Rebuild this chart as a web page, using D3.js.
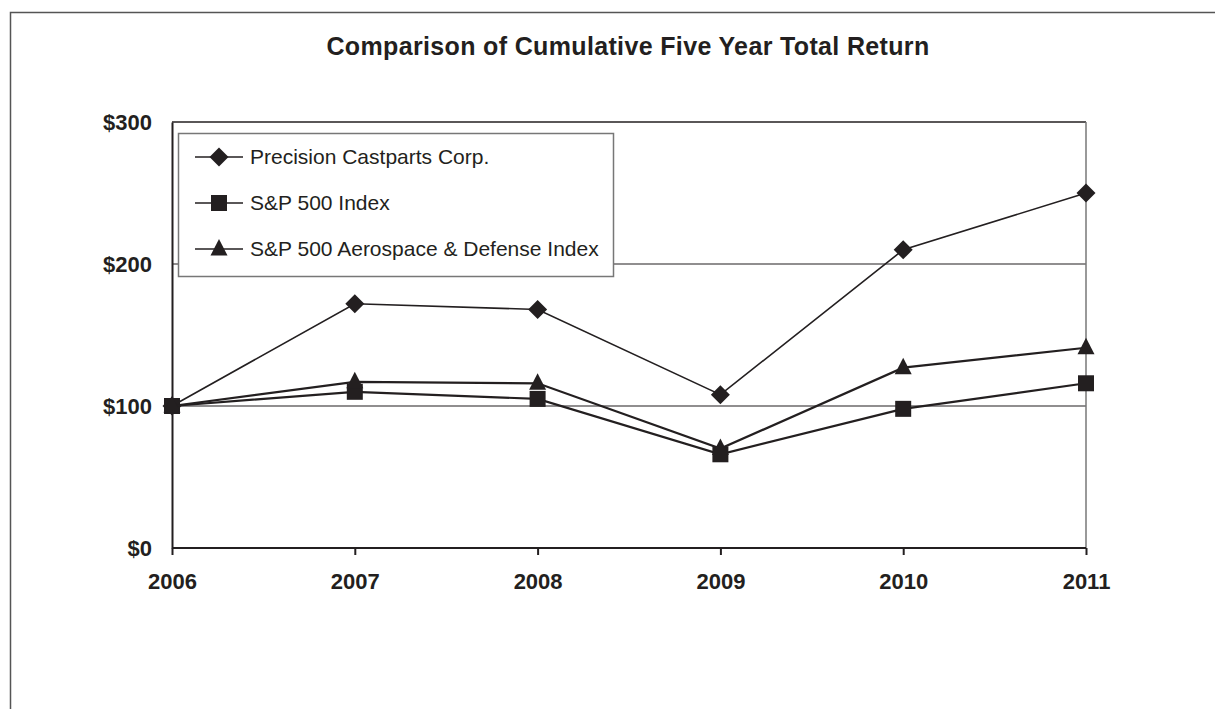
<!DOCTYPE html>
<html>
<head>
<meta charset="utf-8">
<script src="https://cdn.jsdelivr.net/npm/d3@7"></script>
<style>
	body { margin: 0; background: #fff; }
	svg { display: block; font-family: "Liberation Sans", Arial, Helvetica, sans-serif; }
	.tick-label { font-weight: bold; font-size: 22px; fill: #231f20; }
	.legend-label { font-size: 21px; fill: #231f20; }
</style>
</head>
<body>
<div class="returnchart"></div>
<script>
var years = ["2006", "2007", "2008", "2009", "2010", "2011"];
var yTicks = [0, 100, 200, 300];
var seriesNames = ["Precision Castparts Corp.", "S&P 500 Index", "S&P 500 Aerospace & Defense Index"];
var precisionValues = [100, 172, 168, 108, 210, 250];
var sp500Values = [100, 110, 105, 66, 98, 116];
var aerospaceValues = [100, 117, 116, 70, 127, 141];
var markerTypes = ["diamond", "square", "triangle"];

var width = 1215, height = 709;
var margin = {top: 122, right: 129, bottom: 161, left: 172}; // plot box inside the page
var ink = "#231f20";

var x = d3.scalePoint().domain(years).range([margin.left, width - margin.right]);
var y = d3.scaleLinear().domain([0, 300]).range([height - margin.bottom, margin.top]);

var series = [precisionValues, sp500Values, aerospaceValues].map(function (vals, i) {
	return {name: seriesNames[i], marker: markerTypes[i], values: vals};
});

var svg = d3.select(".returnchart").append("svg")
	.attr("width", width)
	.attr("height", height);

// outer frame (runs off the right and bottom edge in the original)
svg.append("path")
	.attr("d", "M10.5," + (height + 5) + "V12.5H" + (width + 5))
	.attr("fill", "none")
	.attr("stroke", "#555")
	.attr("stroke-width", 1.5);

svg.append("text")
	.attr("x", 628)
	.attr("y", 55)
	.attr("text-anchor", "middle")
	.attr("font-weight", "bold")
	.attr("font-size", 25)
	.attr("letter-spacing", 0.35)
	.attr("fill", ink)
	.text("Comparison of Cumulative Five Year Total Return");

var x0 = x.range()[0], x1 = x.range()[1];

// gridlines at 100 and 200
svg.append("g").selectAll("line")
	.data([100, 200])
	.enter().append("line")
	.attr("x1", x0).attr("x2", x1)
	.attr("y1", function (d) { return y(d); })
	.attr("y2", function (d) { return y(d); })
	.attr("stroke", ink)
	.attr("stroke-width", 1.2);

// top and right edges of plot box
svg.append("line")
	.attr("x1", x0).attr("x2", x1)
	.attr("y1", y(300)).attr("y2", y(300))
	.attr("stroke", ink).attr("stroke-width", 1.5);
svg.append("line")
	.attr("x1", x1).attr("x2", x1)
	.attr("y1", y(300)).attr("y2", y(0))
	.attr("stroke", "#777").attr("stroke-width", 1.5);

// x axis
var xAxis = svg.append("g")
	.attr("transform", "translate(0," + y(0) + ")")
	.call(d3.axisBottom(x).tickSize(7).tickPadding(18));
xAxis.select(".domain").attr("stroke", ink).attr("stroke-width", 2).attr("d", "M" + x0 + ",0H" + x1);
xAxis.selectAll(".tick line").attr("stroke", ink).attr("stroke-width", 2);
xAxis.selectAll(".tick text").attr("class", "tick-label").attr("font-size", null).attr("font-family", null).attr("fill", null);

// y axis
var yAxis = svg.append("g")
	.attr("transform", "translate(" + x0 + ",0)")
	.call(d3.axisLeft(y).tickValues(yTicks).tickSize(0).tickPadding(20).tickFormat(function (d) { return "$" + d; }));
yAxis.select(".domain").attr("stroke", ink).attr("stroke-width", 2);
yAxis.selectAll(".tick text").attr("class", "tick-label").attr("font-size", null).attr("font-family", null).attr("fill", null);

function drawMarker(sel, type) {
	if (type == "diamond") {
		sel.append("path").attr("d", "M0,-9.5L9.5,0L0,9.5L-9.5,0Z");
	} else if (type == "square") {
		sel.append("rect").attr("x", -8).attr("y", -8).attr("width", 16).attr("height", 16);
	} else {
		sel.append("path").attr("d", "M0,-10L8.5,6.5L-8.5,6.5Z");
	}
}

var line = d3.line()
	.x(function (d, i) { return x(years[i]); })
	.y(function (d) { return y(d); });

var groups = svg.append("g").selectAll(".series")
	.data(series)
	.enter().append("g")
	.attr("class", "series");

groups.append("path")
	.attr("d", function (d) { return line(d.values); })
	.attr("fill", "none")
	.attr("stroke", ink)
	.attr("stroke-width", function (d, i) { return i == 0 ? 1.6 : 2.2; });

groups.each(function (s) {
	d3.select(this).selectAll(".pt")
		.data(s.values)
		.enter().append("g")
		.attr("class", "pt")
		.attr("fill", ink)
		.attr("transform", function (d, i) { return "translate(" + x(years[i]) + "," + y(d) + ")"; })
		.each(function () { drawMarker(d3.select(this), s.marker); });
});

// legend
var legend = svg.append("g").attr("transform", "translate(178,133)");
legend.append("rect")
	.attr("x", 0.5).attr("y", 0.5)
	.attr("width", 435).attr("height", 143)
	.attr("fill", "#fff")
	.attr("stroke", "#777")
	.attr("stroke-width", 1.5);

var rows = legend.selectAll(".row")
	.data(series)
	.enter().append("g")
	.attr("class", "row")
	.attr("transform", function (d, i) { return "translate(0," + (24 + i * 46) + ")"; });
rows.append("line")
	.attr("x1", 17).attr("x2", 65)
	.attr("stroke", ink).attr("stroke-width", 1.6);
rows.append("g")
	.attr("fill", ink)
	.attr("transform", "translate(41,0)")
	.each(function (d) { drawMarker(d3.select(this), d.marker); });
rows.append("text")
	.attr("class", "legend-label")
	.attr("x", 72)
	.attr("dy", "0.35em")
	.text(function (d) { return d.name; });
</script>
</body>
</html>
